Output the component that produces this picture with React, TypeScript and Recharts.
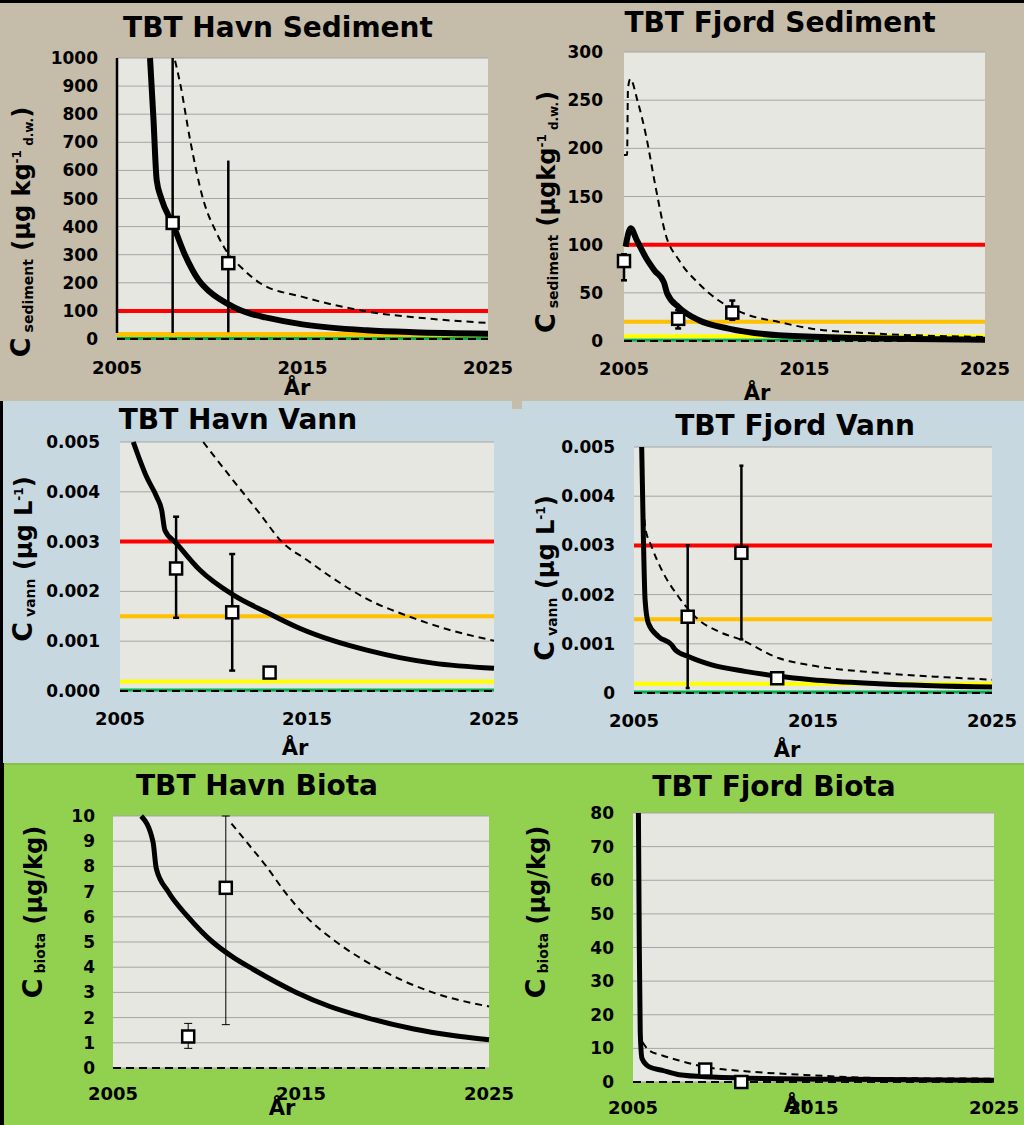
import React from 'react';
import { ComposedChart, Line, Scatter, ErrorBar, XAxis, YAxis, CartesianGrid } from 'recharts';

const FONT = '"DejaVu Sans", "Liberation Sans", sans-serif';
const YEAR_TICKS = [2005, 2015, 2025];

const RED = '#ff0000';
const ORANGE = '#ffc000';
const YELLOW = '#ffff00';
const GREEN = '#00b050';

// TBT Havn Sediment
const hsModelYr = [2006.78, 2006.96, 2007.14, 2007.39, 2008.03, 2008.66, 2009.4, 2010.0, 2010.97, 2011.63, 2012.3, 2013, 2015, 2018.46, 2021, 2025];
const hsModelVal = [1000, 790, 565, 500, 405, 300, 210, 168, 125, 103, 88, 77, 52, 31, 24, 19];
const hsUpperYr = [2008.13, 2008.4, 2008.94, 2009.65, 2010.37, 2010.97, 2011.63, 2012.71, 2015, 2018.46, 2022.05, 2025];
const hsUpperVal = [990, 911, 709, 496, 377, 306, 259, 199, 150, 98, 71, 57];
const hsObsYr = [2008, 2011];
const hsObsVal = [413, 270];
const hsObsLow = [21, 24];
const hsObsHigh = [1000, 635];
// observation above the axis range: only its error bar shows
const hsOffYr = [2005];
const hsOffLow = [21];
const hsTicks = [0, 100, 200, 300, 400, 500, 600, 700, 800, 900, 1000];

// TBT Fjord Sediment
const fsModelYr = [2005.09, 2005.37, 2005.7, 2006.2, 2006.7, 2007.21, 2007.4, 2008.04, 2009.15, 2010.8, 2013.57, 2017.26, 2021, 2025];
const fsModelVal = [98, 117, 105, 87, 73, 61, 49, 35, 21.5, 12.8, 5.9, 3.5, 2.2, 1.4];
const fsUpperYr = [2005, 2005.17, 2005.22, 2005.35, 2005.74, 2006.2, 2006.75, 2007.3, 2008.04, 2009.15, 2010.25, 2011.73, 2013.57, 2015.4, 2019.1, 2025];
const fsUpperVal = [193, 193, 262, 272, 250, 215, 160, 111, 84, 59.5, 42, 28, 19.7, 12.8, 7.6, 4.2];
const fsObsYr = [2005, 2008, 2011];
const fsObsVal = [83, 23, 29.5];
const fsObsLow = [63, 13, 22];
const fsObsHigh = [90, 32, 42];
const fsTicks = [0, 50, 100, 150, 200, 250, 300];

// TBT Havn Vann
const hvModelYr = [2005.71, 2006.42, 2006.96, 2007.23, 2007.4, 2008.03, 2009.27, 2011.05, 2012.84, 2014.6, 2016.4, 2018.2, 2019.96, 2021.74, 2025];
const hvModelVal = [0.005, 0.0043, 0.0039, 0.00363, 0.00323, 0.00296, 0.00243, 0.00193, 0.00158, 0.00126, 0.00101, 0.00082, 0.00067, 0.00056, 0.000455];
const hvUpperYr = [2009.45, 2011.05, 2012.5, 2013.64, 2015, 2016.4, 2018.2, 2020.5, 2022.5, 2025];
const hvUpperVal = [0.005, 0.00423, 0.00355, 0.003, 0.00263, 0.00226, 0.00185, 0.00149, 0.00124, 0.00101];
const hvObsYr = [2008, 2011, 2013];
const hvObsVal = [0.00246, 0.00158, 0.00037];
const hvObsLow = [0.00147, 0.00041, 0.00037];
const hvObsHigh = [0.0035, 0.00275, 0.00037];
const vannTicks = [0, 0.001, 0.002, 0.003, 0.004, 0.005];
const hvTickLabels = ['0.000', '0.001', '0.002', '0.003', '0.004', '0.005'];

// TBT Fjord Vann
const fvModelYr = [2005.43, 2005.52, 2005.62, 2005.8, 2006.36, 2007.1, 2007.3, 2008.04, 2009.34, 2011.2, 2013.07, 2014.93, 2018.66, 2025];
const fvModelVal = [0.005, 0.00324, 0.00189, 0.00142, 0.00115, 0.00098, 0.00088, 0.00074, 0.00057, 0.00044, 0.00034, 0.00027, 0.00019, 0.00012];
const fvUpperYr = [2005.43, 2005.62, 2005.99, 2006.55, 2007.48, 2008.6, 2009.72, 2011.0, 2013.07, 2014.93, 2018.66, 2022.4, 2025];
const fvUpperVal = [0.005, 0.00338, 0.00297, 0.0025, 0.00196, 0.00149, 0.00125, 0.00108, 0.00071, 0.00056, 0.00041, 0.00032, 0.00027];
const fvObsYr = [2008, 2011, 2013];
const fvObsVal = [0.00155, 0.00285, 0.0003];
const fvObsLow = [0.0001, 0.00109, 0.0003];
const fvObsHigh = [0.003, 0.00462, 0.0003];
const fvTickLabels = ['0', '0.001', '0.002', '0.003', '0.004', '0.005'];

// TBT Havn Biota
const hbModelYr = [2006.5, 2007.13, 2007.3, 2007.93, 2008.99, 2010.3, 2011.38, 2012.45, 2014.75, 2016.5, 2018.47, 2021, 2023, 2025];
const hbModelVal = [10, 8.97, 7.92, 7, 6, 5, 4.4, 3.92, 3, 2.45, 2, 1.55, 1.3, 1.12];
const hbUpperYr = [2011.3, 2012.18, 2013.16, 2014.13, 2015.28, 2016.88, 2019.0, 2022.0, 2025];
const hbUpperVal = [9.7, 8.9, 8, 7, 6, 5, 4, 3, 2.44];
const hbObsYr = [2009, 2011];
const hbObsVal = [1.25, 7.15];
const hbObsLow = [0.78, 1.72];
const hbObsHigh = [1.77, 10];
const hbTicks = [0, 1, 2, 3, 4, 5, 6, 7, 8, 9, 10];

// TBT Fjord Biota
const fbModelYr = [2005.3, 2005.35, 2005.4, 2005.5, 2005.9, 2006.63, 2007.55, 2009.4, 2013.1, 2016.8, 2025];
const fbModelVal = [80, 40, 15, 7, 4.5, 3.47, 2.18, 1.49, 0.99, 0.79, 0.5];
const fbUpperYr = [2005.52, 2005.89, 2006.63, 2007.55, 2009.03, 2011.24, 2014.93, 2018.63, 2025];
const fbUpperVal = [11.9, 9.4, 7.9, 6.4, 4.46, 3.2, 2.0, 1.19, 0.99];
const fbObsYr = [2009, 2011];
const fbObsVal = [3.7, 0];
const fbTicks = [0, 10, 20, 30, 40, 50, 60, 70, 80];

type Pt = { yr: number; v: number; err?: number[] };

const pts = (yr: number[], val: number[]): Pt[] => yr.map((x, i) => ({ yr: x, v: val[i] }));
const obsPts = (yr: number[], val: number[], low?: number[], high?: number[]): Pt[] =>
  yr.map((x, i) => ({
    yr: x,
    v: val[i],
    err: [val[i] - (low ? low[i] : val[i]), (high ? high[i] : val[i]) - val[i]],
  }));
const flat = (v: number) => [{ yr: 2005, v }, { yr: 2025, v }];

const Box = (p: any) =>
  p.cx == null || p.cy == null ? null : (
    <rect x={p.cx - 6} y={p.cy - 6} width={12} height={12} fill="#fff" stroke="#000" strokeWidth={2.5} />
  );
const NoMark = () => <g />;

const subStyle: React.CSSProperties = { fontSize: 14, position: 'relative', top: 3 };
const supStyle: React.CSSProperties = { fontSize: 12, position: 'relative', top: -9 };
const smallSub: React.CSSProperties = { fontSize: 12, position: 'relative', top: 3 };

function YLab({ sub, unit, sup, sub2 }: { sub: string; unit: string; sup?: string; sub2?: string }) {
  return (
    <span>
      <span style={{ fontSize: 27 }}>C</span>
      <span style={subStyle}> {sub}</span>
      <span style={{ fontSize: 24 }}> ({unit}</span>
      {sup && <span style={supStyle}>{sup}</span>}
      {sub2 && <span style={smallSub}> {sub2}</span>}
      <span style={{ fontSize: 24 }}>)</span>
    </span>
  );
}

interface Thr { v: number; color: string; w: number }
interface PanelCfg {
  col: number;
  plot: { left: number; top: number; right: number; bottom: number };
  yMax: number;
  yTicks: number[];
  fmt?: (v: number, i: number) => string;
  yGap: number;
  xGap: number;
  model: Pt[];
  upper: Pt[];
  obs: Pt[];
  offscale?: Pt[];
  thresholds: Thr[];
  modelW: number;
  errW: number;
  errCap: number;
  title: string;
  titlePos: [number, number];
  arPos: [number, number];
  ylab: React.ReactNode;
  ylabPos: [number, number];
}

const centered = (x: number, y: number, extra: React.CSSProperties = {}): React.CSSProperties => ({
  position: 'absolute',
  left: x,
  top: y,
  transform: 'translate(-50%, -50%)',
  whiteSpace: 'nowrap',
  lineHeight: 1,
  fontFamily: FONT,
  fontWeight: 700,
  color: '#000',
  ...extra,
});

function Panel({ c }: { c: PanelCfg }) {
  const left = c.col;
  const top = c.plot.top - 20;
  const right = Math.min(c.plot.right + 40, 1024);
  const height = c.plot.bottom + 40 - top;
  const width = right - left;
  const tick = { fill: '#000', fontSize: 17, fontWeight: 700, fontFamily: FONT };
  return (
    <>
      <div style={{ position: 'absolute', left, top }}>
        <ComposedChart width={width} height={height} margin={{ top: 20, right: right - c.plot.right, bottom: 0, left: 0 }}>
          <CartesianGrid vertical={false} stroke="#a5a5a5" fill="#e6e7e0" fillOpacity={1} />
          <XAxis
            type="number"
            dataKey="yr"
            domain={[2005, 2025]}
            ticks={YEAR_TICKS}
            interval={0}
            axisLine={false}
            tickLine={false}
            tickSize={0}
            tickMargin={c.xGap}
            height={40}
            tick={{ ...tick, fontSize: 18 }}
          />
          <YAxis
            type="number"
            domain={[0, c.yMax]}
            ticks={c.yTicks}
            interval={0}
            width={c.plot.left - left}
            axisLine={false}
            tickLine={false}
            tickSize={0}
            tickMargin={c.yGap}
            tickFormatter={c.fmt}
            tick={tick}
          />
          {c.thresholds.map((t, i) => (
            <Line key={i} data={flat(t.v)} dataKey="v" stroke={t.color} strokeWidth={t.w} dot={false} activeDot={false} isAnimationActive={false} />
          ))}
          <Line data={flat(0)} dataKey="v" stroke="#000" strokeWidth={2} strokeDasharray="8 5" dot={false} activeDot={false} isAnimationActive={false} />
          <Line data={c.upper} dataKey="v" type="monotone" stroke="#000" strokeWidth={2} strokeDasharray="7 5" dot={false} activeDot={false} isAnimationActive={false} />
          <Line data={c.model} dataKey="v" type="monotone" stroke="#000" strokeWidth={c.modelW} dot={false} activeDot={false} isAnimationActive={false} />
          {c.offscale && (
            <Scatter data={c.offscale} dataKey="v" shape={NoMark} isAnimationActive={false}>
              <ErrorBar dataKey="err" direction="y" width={0} strokeWidth={c.errW} stroke="#000" isAnimationActive={false} />
            </Scatter>
          )}
          <Scatter data={c.obs} dataKey="v" shape={(p: any) => <Box {...p} />} isAnimationActive={false}>
            {c.errW > 0 && (
              <ErrorBar dataKey="err" direction="y" width={c.errCap} strokeWidth={c.errW} stroke="#000" isAnimationActive={false} />
            )}
          </Scatter>
        </ComposedChart>
      </div>
      <div style={centered(c.titlePos[0], c.titlePos[1], { fontSize: 28 })}>{c.title}</div>
      <div style={centered(c.arPos[0], c.arPos[1], { fontSize: 21 })}>År</div>
      <div style={centered(c.ylabPos[0], c.ylabPos[1], { transform: 'translate(-50%, -50%) rotate(-90deg)' })}>{c.ylab}</div>
    </>
  );
}

const waterThresholds: Thr[] = [
  { v: 0.00002, color: GREEN, w: 3 },
  { v: 0.00019, color: YELLOW, w: 4 },
  { v: 0.0015, color: ORANGE, w: 4 },
  { v: 0.003, color: RED, w: 4 },
];

const panels: PanelCfg[] = [
  {
    col: 0,
    plot: { left: 117, top: 58, right: 488, bottom: 339 },
    yMax: 1000,
    yTicks: hsTicks,
    yGap: 19,
    xGap: 22,
    model: pts(hsModelYr, hsModelVal),
    upper: pts(hsUpperYr, hsUpperVal),
    obs: obsPts(hsObsYr, hsObsVal, hsObsLow, hsObsHigh),
    offscale: hsOffYr.map((yr, i) => ({ yr, v: 1000, err: [1000 - hsOffLow[i], 0] })),
    thresholds: [
      { v: 2, color: GREEN, w: 3 },
      { v: 16, color: ORANGE, w: 5 },
      { v: 100, color: RED, w: 4 },
    ],
    modelW: 6,
    errW: 2.5,
    errCap: 0,
    title: 'TBT Havn Sediment',
    titlePos: [278, 28],
    arPos: [297, 388],
    ylab: <YLab sub="sediment" unit="µg kg" sup="-1" sub2="d.w." />,
    ylabPos: [20, 232],
  },
  {
    col: 512,
    plot: { left: 624, top: 52, right: 985, bottom: 341 },
    yMax: 300,
    yTicks: fsTicks,
    yGap: 21,
    xGap: 21,
    model: pts(fsModelYr, fsModelVal),
    upper: pts(fsUpperYr, fsUpperVal),
    obs: obsPts(fsObsYr, fsObsVal, fsObsLow, fsObsHigh),
    thresholds: [
      { v: 1, color: GREEN, w: 3 },
      { v: 5, color: YELLOW, w: 4 },
      { v: 20, color: ORANGE, w: 4 },
      { v: 100, color: RED, w: 4 },
    ],
    modelW: 6,
    errW: 2.5,
    errCap: 3,
    title: 'TBT Fjord Sediment',
    titlePos: [780, 23],
    arPos: [757, 393],
    ylab: <YLab sub="sediment" unit="µgkg" sup="-1" sub2="d.w." />,
    ylabPos: [545, 212],
  },
  {
    col: 0,
    plot: { left: 120, top: 442, right: 494, bottom: 691 },
    yMax: 0.005,
    yTicks: vannTicks,
    fmt: (_v, i) => hvTickLabels[i],
    yGap: 20,
    xGap: 21,
    model: pts(hvModelYr, hvModelVal),
    upper: pts(hvUpperYr, hvUpperVal),
    obs: obsPts(hvObsYr, hvObsVal, hvObsLow, hvObsHigh),
    thresholds: waterThresholds,
    modelW: 5,
    errW: 2.5,
    errCap: 3,
    title: 'TBT Havn Vann',
    titlePos: [238, 420],
    arPos: [295, 748],
    ylab: <YLab sub="vann" unit="µg L" sup="-1" />,
    ylabPos: [22, 559],
  },
  {
    col: 512,
    plot: { left: 634, top: 447, right: 992, bottom: 693 },
    yMax: 0.005,
    yTicks: vannTicks,
    fmt: (_v, i) => fvTickLabels[i],
    yGap: 19,
    xGap: 21,
    model: pts(fvModelYr, fvModelVal),
    upper: pts(fvUpperYr, fvUpperVal),
    obs: obsPts(fvObsYr, fvObsVal, fvObsLow, fvObsHigh),
    thresholds: waterThresholds,
    modelW: 5,
    errW: 2.5,
    errCap: 2,
    title: 'TBT Fjord Vann',
    titlePos: [795, 426],
    arPos: [787, 750],
    ylab: <YLab sub="vann" unit="µg L" sup="-1" />,
    ylabPos: [544, 578],
  },
  {
    col: 0,
    plot: { left: 113, top: 816, right: 489, bottom: 1068 },
    yMax: 10,
    yTicks: hbTicks,
    yGap: 18,
    xGap: 19,
    model: pts(hbModelYr, hbModelVal),
    upper: pts(hbUpperYr, hbUpperVal),
    obs: obsPts(hbObsYr, hbObsVal, hbObsLow, hbObsHigh),
    thresholds: [],
    modelW: 5,
    errW: 1,
    errCap: 4,
    title: 'TBT Havn Biota',
    titlePos: [257, 786],
    arPos: [282, 1108],
    ylab: <YLab sub="biota" unit="µg/kg" />,
    ylabPos: [32, 912],
  },
  {
    col: 512,
    plot: { left: 633, top: 813, right: 994, bottom: 1082 },
    yMax: 80,
    yTicks: fbTicks,
    yGap: 19,
    xGap: 19,
    model: pts(fbModelYr, fbModelVal),
    upper: pts(fbUpperYr, fbUpperVal),
    obs: obsPts(fbObsYr, fbObsVal),
    thresholds: [],
    modelW: 5,
    errW: 0,
    errCap: 0,
    title: 'TBT Fjord Biota',
    titlePos: [774, 787],
    arPos: [797, 1105],
    ylab: <YLab sub="biota" unit="µg/kg" />,
    ylabPos: [535, 912],
  },
];

export default function App() {
  return (
    <div style={{ position: 'absolute', left: 0, top: 0, width: 1024, height: 1125, overflow: 'hidden', background: '#000' }}>
      <div style={{ position: 'absolute', left: 0, top: 3, width: 1024, height: 398, background: '#c5bca9' }} />
      <div style={{ position: 'absolute', left: 3, top: 401, width: 1021, height: 362, background: '#c8d8e0' }} />
      <div style={{ position: 'absolute', left: 512, top: 401, width: 10, height: 8, background: '#c5bca9' }} />
      <div style={{ position: 'absolute', left: 4, top: 763, width: 1020, height: 362, background: '#92d050' }} />
      <div style={{ position: 'absolute', left: 4, top: 763, width: 1020, height: 2, background: '#86c04a' }} />
      {panels.map((c, i) => (
        <Panel key={i} c={c} />
      ))}
    </div>
  );
}
